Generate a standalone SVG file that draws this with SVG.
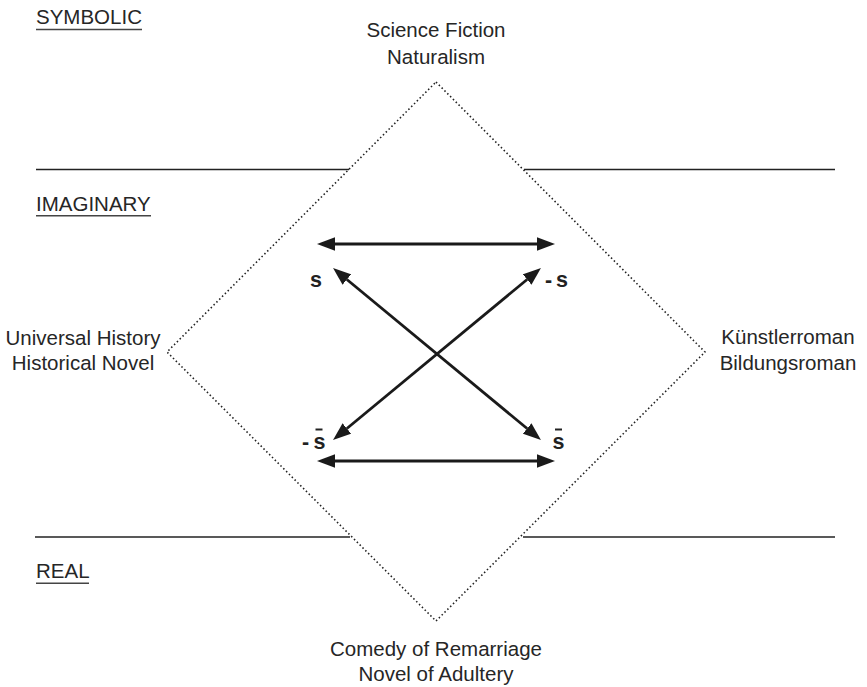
<svg xmlns="http://www.w3.org/2000/svg" width="867" height="687" viewBox="0 0 867 687">
<style>
  .lbl { font-family: "Liberation Sans", Arial, sans-serif; font-size: 20.5px; fill: #262626; }
  .sym { font-family: "Liberation Sans", Arial, sans-serif; font-size: 21.5px; font-weight: bold; fill: #222; }
  .rule { stroke: #222; stroke-width: 1.3; fill: none; }
  .uline { stroke: #444; stroke-width: 1.6; fill: none; }
  .dots { stroke: #222; stroke-width: 1.6; stroke-dasharray: 1.5 2.5; fill: none; }
  .arrow { stroke: #1a1a1a; stroke-width: 2.8; fill: none; marker-start: url(#ah); marker-end: url(#ah); }
  .bar { stroke: #222; stroke-width: 2; }
</style>
<defs>
  <marker id="ah" markerUnits="userSpaceOnUse" markerWidth="18" markerHeight="14" refX="0" refY="6.8" orient="auto-start-reverse" viewBox="0 0 18 13.6">
    <path d="M0,0 L18,6.8 L0,13.6 z" fill="#1a1a1a"/>
  </marker>
</defs>
<rect width="867" height="687" fill="#ffffff"/>

<g id="levels">
  <line class="rule" x1="36" y1="169.5" x2="349" y2="169.5"/>
  <line class="rule" x1="524" y1="169.5" x2="835" y2="169.5"/>
  <line class="rule" x1="35" y1="537" x2="350" y2="537"/>
  <line class="rule" x1="523" y1="537" x2="835" y2="537"/>
</g>

<g id="level-symbolic">
  <text class="lbl" x="36" y="24">SYMBOLIC</text>
  <line class="uline" x1="36" y1="29.5" x2="142" y2="29.5"/>
</g>
<g id="level-imaginary">
  <text class="lbl" x="36" y="211">IMAGINARY</text>
  <line class="uline" x1="36" y1="215.7" x2="151" y2="215.7"/>
</g>
<g id="level-real">
  <text class="lbl" x="36" y="578">REAL</text>
  <line class="uline" x1="36" y1="583.3" x2="89" y2="583.3"/>
</g>

<g id="diamond">
  <polygon class="dots" points="436,82 705,352 436,621 167,352"/>
</g>

<g id="node-top">
  <text class="lbl" x="436" y="37" text-anchor="middle">Science Fiction</text>
  <text class="lbl" x="436" y="64" text-anchor="middle">Naturalism</text>
</g>
<g id="node-left">
  <text class="lbl" x="83" y="344.5" text-anchor="middle">Universal History</text>
  <text class="lbl" x="83" y="370" text-anchor="middle">Historical Novel</text>
</g>
<g id="node-right">
  <text class="lbl" x="788" y="343.5" text-anchor="middle">Künstlerroman</text>
  <text class="lbl" x="788" y="369.5" text-anchor="middle">Bildungsroman</text>
</g>
<g id="node-bottom">
  <text class="lbl" x="436" y="656" text-anchor="middle">Comedy of Remarriage</text>
  <text class="lbl" x="436" y="681" text-anchor="middle">Novel of Adultery</text>
</g>

<g id="node-s">
  <text class="sym" x="310" y="287">s</text>
</g>
<g id="node-minus-s">
  <text class="sym" y="287"><tspan x="545">-</tspan><tspan x="556">s</tspan></text>
</g>
<g id="node-minus-sbar">
  <text class="sym" y="449"><tspan x="302">-</tspan><tspan x="313.5">s</tspan></text>
  <line class="bar" x1="315.5" y1="429.5" x2="322.5" y2="429.5"/>
</g>
<g id="node-sbar">
  <text class="sym" x="552.5" y="449">s</text>
  <line class="bar" x1="555" y1="429.5" x2="562" y2="429.5"/>
</g>

<g id="connectors">
  <line class="arrow" x1="335" y1="244" x2="537" y2="244"/>
  <line class="arrow" x1="335" y1="461" x2="537" y2="461"/>
  <line class="arrow" x1="346.9" y1="279.5" x2="527.1" y2="428.5"/>
  <line class="arrow" x1="527.1" y1="279.5" x2="346.9" y2="428.5"/>
</g>
</svg>
